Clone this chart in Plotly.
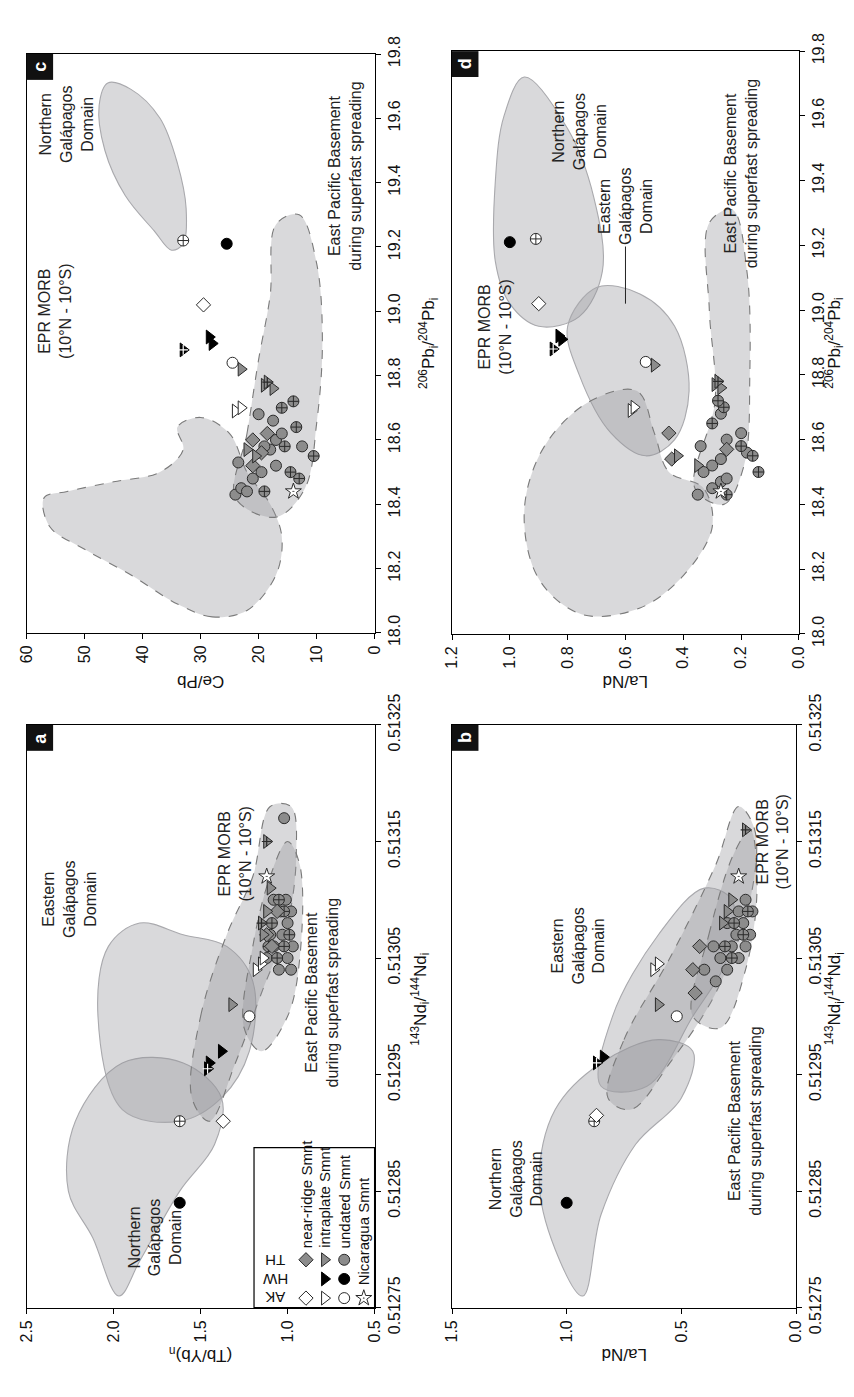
import plotly.graph_objects as go

W, H = 854, 1397
FONT = "Liberation Sans, Arial, Helvetica, sans-serif"

# ---------------- tick values ----------------
cepb_ticks = [60, 50, 40, 30, 20, 10, 0]
lanD_ticks = [1.2, 1.0, 0.8, 0.6, 0.4, 0.2, 0.0]
tbyb_ticks = [2.5, 2.0, 1.5, 1.0, 0.5]
lanB_ticks = [1.5, 1.0, 0.5, 0.0]
pb_ticks = [18.0, 18.2, 18.4, 18.6, 18.8, 19.0, 19.2, 19.4, 19.6, 19.8]
nd_ticks = [0.51275, 0.51285, 0.51295, 0.51305, 0.51315, 0.51325]

# ---------------- fields (ratio, isotope) ----------------
# panel c : Ce/Pb vs 206Pb/204Pb
c_north = [(46, 19.71), (42, 19.69), (37, 19.6), (34, 19.46), (32.5, 19.32), (33, 19.21),
           (35, 19.19), (38, 19.25), (43, 19.36), (46.5, 19.5), (47.5, 19.64)]
c_epr = [(22, 18.07), (28, 18.05), (34, 18.09), (42, 18.18), (50, 18.26), (56, 18.33), (57, 18.42),
         (53, 18.44), (45, 18.47), (37, 18.5), (33, 18.57), (34, 18.64), (30, 18.67), (25, 18.62),
         (22, 18.5), (18, 18.4), (16, 18.3), (17, 18.18)]
c_epb = [(24, 18.42), (22, 18.62), (20, 18.85), (18, 19.05), (17, 19.27), (13, 19.3), (10, 19.15),
         (9, 18.9), (10, 18.65), (12, 18.45), (17, 18.36)]
# panel d : La/Nd vs 206Pb/204Pb
d_north = [(0.95, 19.72), (1.02, 19.6), (1.05, 19.4), (1.05, 19.15), (1.0, 19.02), (0.9, 18.95),
           (0.76, 18.98), (0.68, 19.12), (0.71, 19.35), (0.8, 19.56)]
d_east = [(0.8, 18.95), (0.7, 19.07), (0.55, 19.05), (0.43, 18.95), (0.38, 18.75), (0.43, 18.6),
          (0.53, 18.55), (0.65, 18.62), (0.76, 18.8)]
d_epr = [(0.72, 18.72), (0.88, 18.58), (0.95, 18.38), (0.9, 18.17), (0.75, 18.06), (0.55, 18.08),
         (0.4, 18.18), (0.3, 18.33), (0.33, 18.45), (0.45, 18.5), (0.5, 18.62), (0.56, 18.75)]
d_epb = [(0.36, 18.45), (0.29, 18.72), (0.31, 19.0), (0.31, 19.27), (0.23, 19.31), (0.18, 19.12),
         (0.17, 18.8), (0.19, 18.52), (0.26, 18.4)]
# panel a : (Tb/Yb)n vs 143Nd/144Nd
a_north = [(1.97, 0.51276), (2.12, 0.51281), (2.26, 0.51285), (2.22, 0.51291), (1.95, 0.51296),
           (1.6, 0.51296), (1.38, 0.51293), (1.42, 0.51289), (1.62, 0.51285), (1.85, 0.51279)]
a_east = [(2.09, 0.51300), (2.03, 0.51306), (1.85, 0.51308), (1.6, 0.51307), (1.35, 0.51306),
          (1.2, 0.51303), (1.22, 0.51297), (1.38, 0.51293), (1.62, 0.51291), (1.95, 0.51292)]
a_epr = [(1.55, 0.51293), (1.5, 0.51300), (1.35, 0.51307), (1.2, 0.51312), (1.1, 0.51318),
         (0.98, 0.51318), (0.95, 0.51314), (1.0, 0.51308), (1.15, 0.51302), (1.3, 0.51296),
         (1.45, 0.51291)]
a_epb = [(1.25, 0.51299), (1.2, 0.51306), (1.1, 0.51312), (1.0, 0.51315), (0.93, 0.51313),
         (0.93, 0.51305), (1.0, 0.51300), (1.15, 0.51297)]
# panel b : La/Nd vs 143Nd/144Nd
b_north = [(0.93, 0.51276), (1.05, 0.51280), (1.12, 0.51286), (1.05, 0.51292), (0.85, 0.51296),
           (0.6, 0.51298), (0.45, 0.51297), (0.5, 0.51293), (0.7, 0.51289), (0.85, 0.51283)]
b_east = [(0.85, 0.51294), (0.8, 0.51300), (0.6, 0.51307), (0.4, 0.51311), (0.28, 0.51310),
          (0.3, 0.51305), (0.45, 0.51300), (0.65, 0.51294)]
b_epr = [(0.82, 0.51293), (0.75, 0.51298), (0.55, 0.51305), (0.35, 0.51313), (0.25, 0.51318),
         (0.18, 0.51316), (0.2, 0.51310), (0.35, 0.51302), (0.55, 0.51296), (0.72, 0.51292)]
b_epb = [(0.45, 0.51300), (0.38, 0.51307), (0.27, 0.51314), (0.2, 0.51316), (0.17, 0.51311),
         (0.22, 0.51304), (0.33, 0.51299)]

# ---------------- samples (isotope, ratio) ----------------
c_TH_circ = [(18.43, 24), (18.45, 23), (18.48, 21), (18.50, 19.5), (18.52, 17), (18.53, 23.5),
             (18.57, 18), (18.58, 19), (18.60, 17), (18.62, 16), (18.66, 17.5), (18.68, 20),
             (18.58, 12.5), (18.44, 22)]
c_TH_circx = [(18.44, 19), (18.55, 10.5), (18.58, 15.5), (18.64, 13.5), (18.70, 16), (18.72, 14),
              (18.50, 14.5), (18.48, 13)]
c_TH_dia = [(18.52, 21), (18.56, 19.5), (18.62, 18.5), (18.60, 21)]
c_TH_tri = [(18.77, 19), (18.76, 17.5), (18.57, 22), (18.55, 20.5), (18.82, 23)]
c_TH_trix = [(18.78, 18.5)]
c_HW_circ = [(19.21, 25.5)]
c_HW_tri = [(18.90, 28), (18.92, 28.5)]
c_HW_trix = [(18.88, 33)]
c_AK_circ = [(18.84, 24.5)]
c_AK_circx = [(19.22, 33)]
c_AK_dia = [(19.02, 29.5)]
c_AK_tri = [(18.69, 24), (18.70, 23)]
c_NIC = [(18.44, 14)]

d_TH_circ = [(18.43, 0.35), (18.45, 0.30), (18.47, 0.27), (18.50, 0.33), (18.52, 0.30), (18.54, 0.27),
             (18.56, 0.18), (18.60, 0.25), (18.62, 0.20), (18.68, 0.27), (18.48, 0.25), (18.58, 0.34)]
d_TH_circx = [(18.50, 0.14), (18.55, 0.16), (18.58, 0.20), (18.65, 0.30), (18.70, 0.26), (18.72, 0.28),
              (18.43, 0.25)]
d_TH_dia = [(18.62, 0.45), (18.54, 0.44), (18.57, 0.25)]
d_TH_tri = [(18.77, 0.29), (18.76, 0.27), (18.83, 0.50), (18.55, 0.42), (18.52, 0.35)]
d_TH_trix = [(18.78, 0.28)]
d_HW_circ = [(19.21, 1.0)]
d_HW_tri = [(18.91, 0.82), (18.92, 0.83)]
d_HW_trix = [(18.88, 0.85)]
d_AK_circ = [(18.84, 0.53)]
d_AK_circx = [(19.22, 0.91)]
d_AK_dia = [(19.02, 0.90)]
d_AK_tri = [(18.69, 0.58), (18.70, 0.57)]
d_NIC = [(18.44, 0.27)]

a_TH_circ = [(0.51304, 1.05), (0.51305, 1.12), (0.51305, 1.00), (0.51306, 1.08), (0.51306, 0.97),
             (0.51307, 1.03), (0.51307, 1.10), (0.51308, 1.00), (0.51309, 0.98), (0.51309, 1.04),
             (0.51310, 1.08), (0.51310, 1.01), (0.51304, 0.98), (0.51317, 1.02)]
a_TH_circx = [(0.51305, 1.06), (0.51306, 1.02), (0.51307, 0.99), (0.51308, 1.09), (0.51309, 1.02),
              (0.51306, 1.11), (0.51310, 1.05)]
a_TH_dia = [(0.51306, 1.09), (0.51307, 1.12), (0.51309, 1.06)]
a_TH_tri = [(0.51301, 1.32), (0.51307, 1.14), (0.51309, 1.12), (0.51311, 1.10)]
a_TH_trix = [(0.51315, 1.12), (0.51308, 1.15)]
a_HW_circ = [(0.51284, 1.62)]
a_HW_tri = [(0.51297, 1.38), (0.51296, 1.45)]
a_HW_trix = [(0.512955, 1.46)]
a_AK_circ = [(0.51300, 1.22)]
a_AK_circx = [(0.51291, 1.62)]
a_AK_dia = [(0.51291, 1.37)]
a_AK_tri = [(0.51304, 1.18), (0.513045, 1.15), (0.51305, 1.14)]
a_NIC = [(0.51312, 1.12)]

b_TH_circ = [(0.51303, 0.35), (0.51304, 0.30), (0.51305, 0.25), (0.51305, 0.33), (0.51306, 0.22),
             (0.51306, 0.28), (0.51307, 0.20), (0.51307, 0.26), (0.51308, 0.23), (0.51308, 0.30),
             (0.51309, 0.19), (0.51309, 0.25), (0.51310, 0.22), (0.51304, 0.40), (0.51306, 0.36)]
b_TH_circx = [(0.51305, 0.28), (0.51306, 0.31), (0.51307, 0.23), (0.51308, 0.27), (0.51309, 0.21)]
b_TH_dia = [(0.51302, 0.44), (0.51304, 0.45), (0.51306, 0.42)]
b_TH_tri = [(0.51301, 0.60), (0.51308, 0.32), (0.51309, 0.30), (0.51310, 0.28)]
b_TH_trix = [(0.51316, 0.22)]
b_HW_circ = [(0.51284, 1.0)]
b_HW_tri = [(0.512965, 0.84)]
b_HW_trix = [(0.51296, 0.87)]
b_AK_circ = [(0.51300, 0.52)]
b_AK_circx = [(0.51291, 0.88)]
b_AK_dia = [(0.512915, 0.87)]
b_AK_tri = [(0.51304, 0.62), (0.513045, 0.60)]
b_NIC = [(0.51312, 0.25)]

# ---------------- styles ----------------
GRAY, DARK = "#8c8c8c", "#2a2a2a"
FILL = "rgba(150,150,156,0.36)"
STY = {
    "TH_circ": dict(symbol="circle", color=GRAY, size=11, lc=DARK),
    "TH_circx": dict(symbol="circle-cross", color=GRAY, size=11, lc=DARK),
    "TH_dia": dict(symbol="diamond", color=GRAY, size=11, lc=DARK),
    "TH_tri": dict(symbol="triangle-right", color=GRAY, size=12, lc=DARK),
    "TH_trix": dict(symbol="triangle-right", color=GRAY, size=12, lc=DARK, cross=DARK),
    "HW_circ": dict(symbol="circle", color="black", size=11, lc="black"),
    "HW_tri": dict(symbol="triangle-right", color="black", size=12, lc="black"),
    "HW_trix": dict(symbol="triangle-right", color="black", size=12, lc="black", cross="white"),
    "AK_circ": dict(symbol="circle", color="white", size=11, lc=DARK),
    "AK_circx": dict(symbol="circle-cross", color="white", size=11, lc=DARK),
    "AK_dia": dict(symbol="diamond", color="white", size=11, lc=DARK),
    "AK_tri": dict(symbol="triangle-right", color="white", size=12, lc=DARK),
    "NIC": dict(symbol="star-dot", color="white", size=12, lc=DARK),
}

SAMPLES = {
    "c": dict(TH_circ=c_TH_circ, TH_circx=c_TH_circx, TH_dia=c_TH_dia, TH_tri=c_TH_tri, TH_trix=c_TH_trix,
              HW_circ=c_HW_circ, HW_tri=c_HW_tri, HW_trix=c_HW_trix, AK_circ=c_AK_circ,
              AK_circx=c_AK_circx, AK_dia=c_AK_dia, AK_tri=c_AK_tri, NIC=c_NIC),
    "d": dict(TH_circ=d_TH_circ, TH_circx=d_TH_circx, TH_dia=d_TH_dia, TH_tri=d_TH_tri, TH_trix=d_TH_trix,
              HW_circ=d_HW_circ, HW_tri=d_HW_tri, HW_trix=d_HW_trix, AK_circ=d_AK_circ,
              AK_circx=d_AK_circx, AK_dia=d_AK_dia, AK_tri=d_AK_tri, NIC=d_NIC),
    "a": dict(TH_circ=a_TH_circ, TH_circx=a_TH_circx, TH_dia=a_TH_dia, TH_tri=a_TH_tri, TH_trix=a_TH_trix,
              HW_circ=a_HW_circ, HW_tri=a_HW_tri, HW_trix=a_HW_trix, AK_circ=a_AK_circ,
              AK_circx=a_AK_circx, AK_dia=a_AK_dia, AK_tri=a_AK_tri, NIC=a_NIC),
    "b": dict(TH_circ=b_TH_circ, TH_circx=b_TH_circx, TH_dia=b_TH_dia, TH_tri=b_TH_tri, TH_trix=b_TH_trix,
              HW_circ=b_HW_circ, HW_tri=b_HW_tri, HW_trix=b_HW_trix, AK_circ=b_AK_circ,
              AK_circx=b_AK_circx, AK_dia=b_AK_dia, AK_tri=b_AK_tri, NIC=b_NIC),
}

FIELDS = {
    "c": [(c_north, "solid"), (c_epr, "dash"), (c_epb, "dash")],
    "d": [(d_north, "solid"), (d_east, "solid"), (d_epr, "dash"), (d_epb, "dash")],
    "a": [(a_north, "solid"), (a_east, "solid"), (a_epr, "dash"), (a_epb, "dash")],
    "b": [(b_north, "solid"), (b_east, "solid"), (b_epr, "dash"), (b_epb, "dash")],
}

def fmt(v, nd):
    return f"{v:.{nd}f}"

PANELS = {
    "c": dict(n="", xdom=(18, 373), ydom=(24, 628), xr=(60, 0), yr=(18.0, 19.8),
              xt=cepb_ticks, xtt=[str(v) for v in cepb_ticks], yt=pb_ticks, ytt=[fmt(v, 1) for v in pb_ticks]),
    "d": dict(n="2", xdom=(452, 806), ydom=(21, 629), xr=(1.2, 0), yr=(18.0, 19.8),
              xt=lanD_ticks, xtt=[fmt(v, 1) for v in lanD_ticks], yt=pb_ticks, ytt=[fmt(v, 1) for v in pb_ticks]),
    "a": dict(n="3", xdom=(18, 373), ydom=(724, 1332), xr=(2.5, 0.5), yr=(0.51275, 0.51325),
              xt=tbyb_ticks, xtt=[fmt(v, 1) for v in tbyb_ticks], yt=nd_ticks, ytt=[fmt(v, 5) for v in nd_ticks]),
    "b": dict(n="4", xdom=(452, 803), ydom=(724, 1332), xr=(1.5, 0), yr=(0.51275, 0.51325),
              xt=lanB_ticks, xtt=[fmt(v, 1) for v in lanB_ticks], yt=nd_ticks, ytt=[fmt(v, 5) for v in nd_ticks]),
}

fig = go.Figure()
layout = dict(width=W, height=H, margin=dict(l=0, r=0, t=0, b=0), showlegend=False,
              paper_bgcolor="white", plot_bgcolor="rgba(0,0,0,0)", font=dict(family=FONT, color="#111"))

tickfont = dict(family=FONT, size=16, color="#111")
for key, p in PANELS.items():
    n = p["n"]
    xa, ya = "x" + n, "y" + n
    layout["xaxis" + n] = dict(domain=[p["xdom"][0] / W, p["xdom"][1] / W], range=list(p["xr"]), anchor=ya,
                               tickmode="array", tickvals=p["xt"], ticktext=p["xtt"], tickangle=-90,
                               ticks="outside", ticklen=5, tickcolor="black", showline=True, mirror=True,
                               linecolor="black", linewidth=1.3, showgrid=False, zeroline=False,
                               tickfont=tickfont)
    layout["yaxis" + n] = dict(domain=[1 - p["ydom"][1] / H, 1 - p["ydom"][0] / H], range=list(p["yr"]),
                               anchor=xa, side="right", tickmode="array", tickvals=p["yt"],
                               ticktext=p["ytt"], tickangle=-90, ticks="outside", ticklen=5,
                               tickcolor="black", showline=True, mirror=True, linecolor="black",
                               linewidth=1.3, showgrid=False, zeroline=False, tickfont=tickfont)
    # fields
    for poly, dash in FIELDS[key]:
        xs = [q[0] for q in poly] + [poly[0][0]]
        ys = [q[1] for q in poly] + [poly[0][1]]
        fig.add_trace(go.Scatter(x=xs, y=ys, xaxis=xa, yaxis=ya, mode="lines", fill="toself",
                                 fillcolor=FILL, line=dict(shape="spline", smoothing=1.0,
                                 color="#7a7a7a" if dash == "dash" else "#a9a9ad",
                                 width=1.1, dash=dash), hoverinfo="skip"))
    # samples
    for grp, pts in SAMPLES[key].items():
        s = STY[grp]
        xs = [q[1] for q in pts]
        ys = [q[0] for q in pts]
        fig.add_trace(go.Scatter(x=xs, y=ys, xaxis=xa, yaxis=ya, mode="markers",
                                 marker=dict(symbol=s["symbol"], size=s["size"], color=s["color"],
                                             line=dict(color=s["lc"], width=1))))
        if "cross" in s:
            fig.add_trace(go.Scatter(x=xs, y=ys, xaxis=xa, yaxis=ya, mode="markers",
                                     marker=dict(symbol="cross-thin", size=7,
                                                 line=dict(color=s["cross"], width=1.2))))

# ---------------- pixel overlay axis (legend) ----------------
layout["xaxis5"] = dict(domain=[250 / W, 373 / W], range=[250, 373], visible=False, anchor="y5",
                        fixedrange=True)
layout["yaxis5"] = dict(domain=[1 - 1332 / H, 1 - 1165 / H], range=[1332, 1165], visible=False,
                        anchor="x5", fixedrange=True)

leg_cols = {"near": 303, "intra": 322, "undated": 342, "nic": 362}
leg_rows = {"AK": 1322, "HW": 1302, "TH": 1282}
leg_items = [("near", "AK", "AK_dia"), ("intra", "AK", "AK_tri"), ("undated", "AK", "AK_circ"),
             ("nic", "AK", "NIC"), ("intra", "HW", "HW_tri"), ("undated", "HW", "HW_circ"),
             ("near", "TH", "TH_dia"), ("intra", "TH", "TH_tri"), ("undated", "TH", "TH_circ")]
for col, row, grp in leg_items:
    s = STY[grp]
    fig.add_trace(go.Scatter(x=[leg_cols[col]], y=[leg_rows[row]], xaxis="x5", yaxis="y5", mode="markers",
                             marker=dict(symbol=s["symbol"], size=s["size"], color=s["color"],
                                         line=dict(color=s["lc"], width=1)), hoverinfo="skip"))

shapes = []
annotations = []

def ann(**kw):
    kw.setdefault("xanchor", "center")
    kw.setdefault("yanchor", "middle")
    kw.setdefault("showarrow", False)
    annotations.append(kw)

# legend box
shapes.append(dict(type="rect", xref="paper", yref="paper", x0=250 / W, x1=373 / W,
                   y0=1 - 1332 / H, y1=1 - 1165 / H, line=dict(color="black", width=1.2),
                   fillcolor="white", layer="below"))
for row, yy in leg_rows.items():
    ann(xref="paper", yref="paper", x=272 / W, y=1 - yy / H, text=row, textangle=180,
        font=dict(size=15, family=FONT))
for col, txt, ybot in [("near", "near-ridge Smnt", 1272), ("intra", "intraplate Smnt", 1272),
                       ("undated", "undated Smnt", 1272), ("nic", "Nicaragua Smnt", 1311)]:
    ann(xref="paper", yref="paper", x=leg_cols[col] / W, y=1 - ybot / H, text=txt, textangle=-90,
        yanchor="bottom", font=dict(size=15, family=FONT))

# panel letter boxes
for key, p in PANELS.items():
    x0, y0 = p["xdom"][0], p["ydom"][0]
    shapes.append(dict(type="rect", xref="paper", yref="paper", x0=x0 / W, x1=(x0 + 27) / W,
                       y0=1 - (y0 + 27) / H, y1=1 - y0 / H, fillcolor="#111", line=dict(width=0)))
    ann(xref="paper", yref="paper", x=(x0 + 13.5) / W, y=1 - (y0 + 13.5) / H,
        text="<b>%s</b>" % key, textangle=-90, font=dict(size=18, color="white", family=FONT))

# axis titles
PB_T = "<sup>206</sup>Pb<sub>i</sub>/<sup>204</sup>Pb<sub>i</sub>"
ND_T = "<sup>143</sup>Nd<sub>i</sub>/<sup>144</sup>Nd<sub>i</sub>"
for x, y, t, ang in [(196, 678, "Ce/Pb", 180), (629, 678, "La/Nd", 180),
                     (196, 1381, "(Tb/Yb)<sub>n</sub>", 180), (628, 1381, "La/Nd", 180),
                     (428, 326, PB_T, -90), (842, 326, PB_T, -90),
                     (419, 1010, ND_T, -90), (842, 1010, ND_T, -90)]:
    ann(xref="paper", yref="paper", x=x / W, y=1 - y / H, text=t, textangle=ang,
        font=dict(size=17, family=FONT, color="#111"))

# in-panel labels
NG = "Northern<br>Galápagos<br>Domain"
EG = "Eastern<br>Galápagos<br>Domain"
EPR = "EPR MORB<br>(10°N - 10°S)"
EPB = "East Pacific Basement<br>during superfast spreading"
LAB = [("", 53, 19.58, NG), ("", 55, 19.0, EPR), ("", 5, 19.42, EPB),
       ("2", 0.76, 19.55, NG), ("2", 1.05, 18.95, EPR), ("2", 0.2, 19.42, EPB),
       ("3", 2.25, 0.51310, EG), ("3", 1.76, 0.51281, NG), ("3", 1.3, 0.51314, EPR),
       ("3", 0.8, 0.51302, EPB),
       ("4", 1.22, 0.51286, NG), ("4", 0.1, 0.51315, EPR), ("4", 0.22, 0.51291, EPB),
       ("4", 0.95, 0.51306, EG)]
for n, x, y, t in LAB:
    ann(xref="x" + n, yref="y" + n, x=x, y=y, text=t, textangle=-90,
        font=dict(size=16, family=FONT, color="#222"))
# Eastern Galápagos in panel d with leader line
ann(xref="x2", yref="y2", x=0.6, y=19.02, ax=0.6, ay=19.32, axref="x2", ayref="y2",
    text=EG, showarrow=True, arrowhead=0, arrowwidth=1, arrowcolor="#222",
    textangle=-90, font=dict(size=16, family=FONT, color="#222"))

layout["shapes"] = shapes
layout["annotations"] = annotations
fig.update_layout(**layout)
fig.write_html("out.html")
